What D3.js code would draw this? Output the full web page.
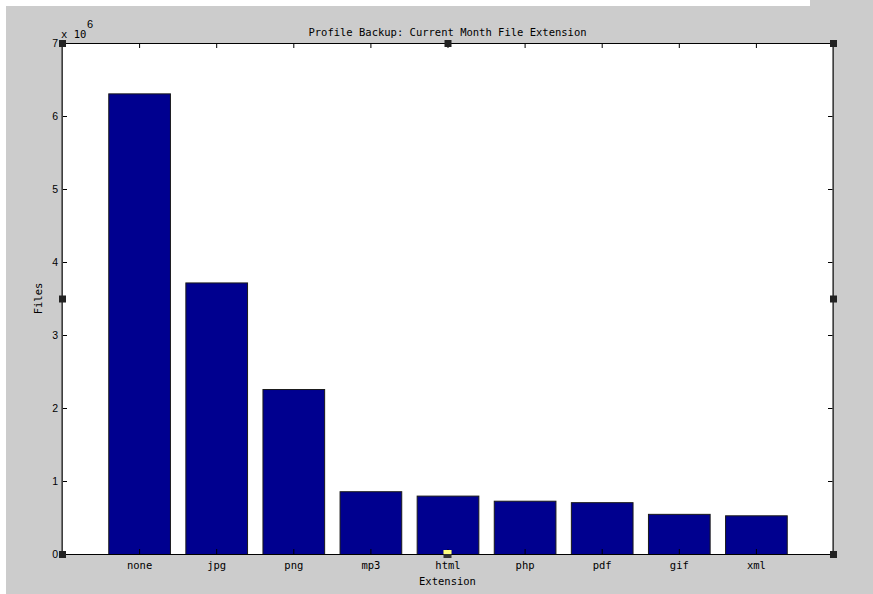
<!DOCTYPE html>
<html>
<head>
<meta charset="utf-8">
<script src="https://cdn.jsdelivr.net/npm/d3@7"></script>
<style>
  body { margin: 0; background: #fff; }
  svg text { fill: #000; }
</style>
</head>
<body>
<svg id="chart" width="873" height="594"></svg>
<script>
// 数据
var extensions = ["none", "jpg", "png", "mp3", "html", "php", "pdf", "gif", "xml"];
var fileCounts = [6.31, 3.72, 2.26, 0.86, 0.80, 0.73, 0.71, 0.55, 0.53]; // x 10^6
var yTicks = [0, 1, 2, 3, 4, 5, 6, 7];
var titleText = "Profile Backup: Current Month File Extension";
var xLabelText = "Extension";
var yLabelText = "Files";

var svg = d3.select("#chart");
// 绘图区的边界（注意不能用 top 作为变量名，会和 window.top 冲突）
var axLeft = 62, axRight = 833, axTop = 43, axBottom = 554;
var mono = "'DejaVu Sans Mono', monospace";
var sans = "'Liberation Sans', Arial, sans-serif";

// 灰色背景
svg.append("rect").attr("x", 6).attr("y", 6).attr("width", 867).attr("height", 588).attr("fill", "#cccccc");
svg.append("rect").attr("x", 810).attr("y", 0).attr("width", 63).attr("height", 6).attr("fill", "#cccccc");

var x = d3.scaleLinear().domain([0, 10]).range([axLeft, axRight]);
var y = d3.scaleLinear().domain([0, 7]).range([axBottom, axTop]);

// 白色绘图区
svg.append("rect").attr("x", axLeft).attr("y", axTop)
	.attr("width", axRight - axLeft).attr("height", axBottom - axTop).attr("fill", "#fff");

// 柱子
svg.selectAll(".bar").data(fileCounts).enter().append("rect")
	.attr("class", "bar")
	.attr("x", function (d, i) { return x(i + 1 - 0.4) + 0.5; })
	.attr("y", function (d) { return y(d) + 0.5; })
	.attr("width", function (d, i) { return x(i + 1.4) - x(i + 0.6); })
	.attr("height", function (d) { return y(0) - y(d); })
	.attr("fill", "#00008f")
	.attr("stroke", "#1a1a1a")
	.attr("stroke-width", 1);

// 坐标轴
var xPos = d3.range(1, 10);
var bottomAxis = d3.axisBottom(x).tickValues(xPos)
	.tickFormat(function (d) { return extensions[d - 1]; })
	.tickSizeInner(-5).tickSizeOuter(0).tickPadding(8);
var topAxis = d3.axisTop(x).tickValues(xPos).tickFormat("")
	.tickSizeInner(-5).tickSizeOuter(0);
var leftAxis = d3.axisLeft(y).tickValues(yTicks).tickFormat(d3.format("d"))
	.tickSizeInner(-5).tickSizeOuter(0).tickPadding(4);
var rightAxis = d3.axisRight(y).tickValues(yTicks).tickFormat("")
	.tickSizeInner(-5).tickSizeOuter(0);

function styleAxis(g, font) {
	g.select(".domain").attr("stroke", "#000");
	g.selectAll(".tick line").attr("stroke", "#000");
	g.selectAll(".tick text").attr("font-family", font).attr("font-size", "10.5px").attr("fill", "#000");
}

svg.append("g").attr("transform", "translate(0," + axBottom + ")").call(bottomAxis).call(styleAxis, mono);
svg.append("g").attr("transform", "translate(0," + axTop + ")").call(topAxis).call(styleAxis, mono);
svg.append("g").attr("transform", "translate(" + axLeft + ",0)").call(leftAxis).call(styleAxis, sans);
svg.append("g").attr("transform", "translate(" + axRight + ",0)").call(rightAxis).call(styleAxis, sans);

// 左右两侧的轴线是灰色的
svg.append("line").attr("x1", axLeft).attr("x2", axLeft).attr("y1", axTop).attr("y2", axBottom)
	.attr("stroke", "#555").attr("stroke-width", 1.5);
svg.append("line").attr("x1", axRight).attr("x2", axRight).attr("y1", axTop).attr("y2", axBottom)
	.attr("stroke", "#555").attr("stroke-width", 1.5);

// 标题和轴标签
svg.append("text").attr("x", (axLeft + axRight) / 2).attr("y", 36)
	.attr("text-anchor", "middle").attr("font-family", mono).attr("font-size", "10.5px")
	.text(titleText);
svg.append("text").attr("x", (axLeft + axRight) / 2).attr("y", 585)
	.attr("text-anchor", "middle").attr("font-family", mono).attr("font-size", "10.5px")
	.text(xLabelText);
svg.append("text").attr("transform", "translate(42," + ((axTop + axBottom) / 2) + ") rotate(-90)")
	.attr("text-anchor", "middle").attr("font-family", mono).attr("font-size", "10.5px")
	.text(yLabelText);

// 指数 x 10^6
svg.append("text").attr("x", axLeft - 1).attr("y", 38)
	.attr("font-family", mono).attr("font-size", "10.5px").text("x 10");
svg.append("text").attr("x", axLeft + 25).attr("y", 28)
	.attr("font-family", sans).attr("font-size", "11px").text("6");

// 选择框的小方块
var handles = [[axLeft, axTop], [(axLeft + axRight) / 2, axTop], [axRight, axTop],
	[axLeft, (axTop + axBottom) / 2], [axRight, (axTop + axBottom) / 2],
	[axLeft, axBottom], [axRight, axBottom]];
svg.selectAll(".handle").data(handles).enter().append("rect")
	.attr("x", function (d) { return d[0] - 3; })
	.attr("y", function (d) { return d[1] - 3; })
	.attr("width", 7).attr("height", 7)
	.attr("fill", "#222");
var mx = (axLeft + axRight) / 2;
svg.append("rect").attr("x", mx - 4).attr("y", axBottom - 4).attr("width", 8).attr("height", 8).attr("fill", "#333");
svg.append("rect").attr("x", mx - 4).attr("y", axBottom - 4).attr("width", 8).attr("height", 4).attr("fill", "#ffff80");
</script>
</body>
</html>
